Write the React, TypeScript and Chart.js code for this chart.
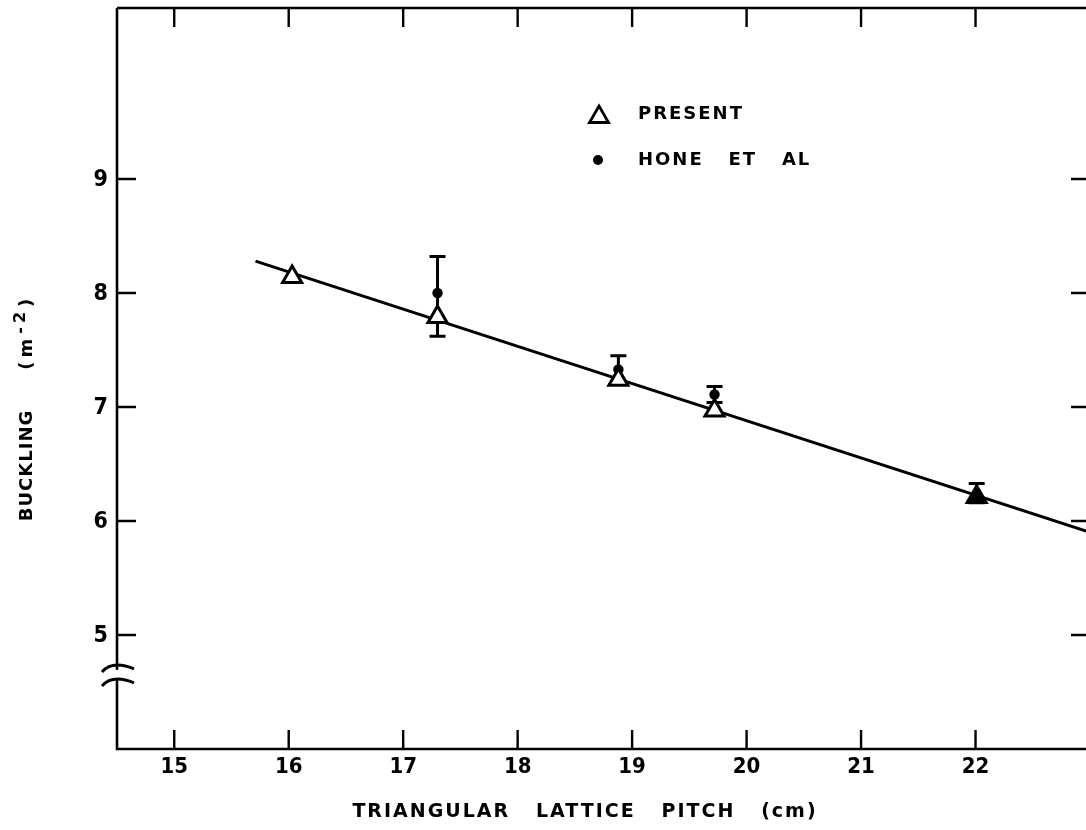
import { useEffect, useRef } from "react";
import { Chart, registerables } from "chart.js";

Chart.register(...registerables);

// ---------- data ----------
const X_TICKS = [15, 16, 17, 18, 19, 20, 21, 22];
const Y_TICKS = [5, 6, 7, 8, 9];
const X_RANGE = [14.5, 23];
const Y_RANGE = [4, 10.5];
const Y_BREAK = 4.65;

const PRESENT_X = [16.03, 17.3, 18.88, 19.72, 22.01];
const PRESENT_Y = [8.14, 7.79, 7.24, 6.97, 6.21];

const HONE_X = [17.3, 18.88, 19.72, 22.01];
const HONE_Y = [8.0, 7.33, 7.11, 6.22];
const HONE_HIGH = [8.32, 7.45, 7.18, 6.33];
const HONE_LOW = [7.62, 7.21, 7.04, 6.16];

const FIT_X = [15.71, 23.0];
const FIT_Y = [8.28, 5.9];

const X_TITLE = "TRIANGULAR   LATTICE   PITCH   (cm)";
const Y_TITLE_MAIN = "BUCKLING";
const Y_TITLE_UNIT_A = "(m";
const Y_TITLE_UNIT_SUP = "-2";
const Y_TITLE_UNIT_B = ")";
const LEGEND_LABELS = ["PRESENT", "HONE   ET   AL"];

const TICK_FONT = '"DejaVu Sans Condensed", "Liberation Sans Narrow", "DejaVu Sans", sans-serif';
const TEXT_FONT = '"DejaVu Sans", "Noto Sans", sans-serif';

const framePlugin = {
  id: "frame",
  beforeDatasetsDraw(chart: any) {
    const { ctx, chartArea, scales } = chart;
    const { left, right, top, bottom } = chartArea;
    const xs = scales.x;
    const ys = scales.y;
    ctx.save();
    ctx.strokeStyle = "#000";
    ctx.lineCap = "butt";
    // frame
    ctx.lineWidth = 2.6;
    ctx.beginPath();
    ctx.moveTo(left, top);
    ctx.lineTo(left, bottom);
    ctx.lineTo(right, bottom);
    ctx.moveTo(left, top);
    ctx.lineTo(right, top);
    ctx.moveTo(right, top);
    ctx.lineTo(right, bottom);
    ctx.stroke();
    // ticks
    const TL = 19;
    ctx.lineWidth = 2.4;
    ctx.beginPath();
    X_TICKS.forEach((v) => {
      const px = xs.getPixelForValue(v);
      ctx.moveTo(px, bottom);
      ctx.lineTo(px, bottom - TL);
      ctx.moveTo(px, top);
      ctx.lineTo(px, top + TL);
    });
    Y_TICKS.forEach((v) => {
      const py = ys.getPixelForValue(v);
      ctx.moveTo(left, py);
      ctx.lineTo(left + TL, py);
      ctx.moveTo(right, py);
      ctx.lineTo(right - TL, py);
    });
    ctx.stroke();

    // tick labels
    ctx.fillStyle = "#000";
    ctx.font = `bold 22px ${TICK_FONT}`;
    ctx.textAlign = "center";
    ctx.textBaseline = "top";
    X_TICKS.forEach((v) => {
      ctx.fillText(String(v), xs.getPixelForValue(v), bottom + 7);
    });
    ctx.font = `bold 23px ${TICK_FONT}`;
    ctx.textAlign = "right";
    ctx.textBaseline = "middle";
    Y_TICKS.forEach((v) => {
      ctx.fillText(String(v), left - 9, ys.getPixelForValue(v) + 1);
    });

    // error bars for HONE ET AL
    ctx.lineWidth = 3;
    ctx.beginPath();
    HONE_X.forEach((xv, i) => {
      const px = xs.getPixelForValue(xv);
      const ph = ys.getPixelForValue(HONE_HIGH[i]);
      const pl = ys.getPixelForValue(HONE_LOW[i]);
      ctx.moveTo(px, ph);
      ctx.lineTo(px, pl);
      ctx.moveTo(px - 8, ph);
      ctx.lineTo(px + 8, ph);
      ctx.moveTo(px - 8, pl);
      ctx.lineTo(px + 8, pl);
    });
    ctx.stroke();
    ctx.restore();
  },
  afterDraw(chart: any) {
    const { ctx, chartArea, scales } = chart;
    const { left } = chartArea;
    const ys = scales.y;
    ctx.save();
    // axis break
    const pb = ys.getPixelForValue(Y_BREAK);
    ctx.fillStyle = "#fff";
    ctx.fillRect(left - 6, pb - 5, 12, 10);
    ctx.strokeStyle = "#000";
    ctx.lineWidth = 3;
    [pb - 7, pb + 7].forEach((yy) => {
      ctx.beginPath();
      ctx.moveTo(left - 15, yy + 4);
      ctx.bezierCurveTo(left - 7, yy - 5, left + 5, yy - 4, left + 17, yy + 1);
      ctx.stroke();
    });

    ctx.fillStyle = "#000";
    // x title
    ctx.font = `bold 19px ${TEXT_FONT}`;
    (ctx as any).letterSpacing = "2px";
    ctx.textAlign = "center";
    ctx.textBaseline = "middle";
    ctx.fillText(X_TITLE, 585, 812);

    // legend
    ctx.font = `bold 18px ${TEXT_FONT}`;
    (ctx as any).letterSpacing = "2px";
    ctx.textAlign = "left";
    ctx.fillText(LEGEND_LABELS[0], 638, 114);
    ctx.fillText(LEGEND_LABELS[1], 638, 160);
    // legend triangle
    const tx = 599, ty = 117, r = 11;
    ctx.lineWidth = 2.8;
    ctx.beginPath();
    ctx.moveTo(tx, ty - r);
    ctx.lineTo(tx + r * 0.866, ty + r * 0.5);
    ctx.lineTo(tx - r * 0.866, ty + r * 0.5);
    ctx.closePath();
    ctx.stroke();
    // legend dot
    ctx.beginPath();
    ctx.arc(598, 160, 5, 0, Math.PI * 2);
    ctx.fill();

    // y title (rotated)
    ctx.save();
    ctx.translate(27, 408);
    ctx.rotate(-Math.PI / 2);
    ctx.textBaseline = "middle";
    ctx.textAlign = "left";
    const mainFont = `bold 18px ${TEXT_FONT}`;
    const supFont = `bold 16px ${TEXT_FONT}`;
    (ctx as any).letterSpacing = "1px";
    ctx.font = mainFont;
    const w1 = ctx.measureText(Y_TITLE_MAIN).width;
    (ctx as any).letterSpacing = "4px";
    const w2 = ctx.measureText(Y_TITLE_UNIT_A).width;
    const w4 = ctx.measureText(Y_TITLE_UNIT_B).width;
    ctx.font = supFont;
    const w3 = ctx.measureText(Y_TITLE_UNIT_SUP).width;
    const gap = 40;
    const total = w1 + gap + w2 + w3 + w4 + 2;
    let cx = -total / 2;
    ctx.font = mainFont;
    (ctx as any).letterSpacing = "1px";
    ctx.fillText(Y_TITLE_MAIN, cx, 0);
    cx += w1 + gap;
    (ctx as any).letterSpacing = "4px";
    ctx.fillText(Y_TITLE_UNIT_A, cx, 0);
    cx += w2 + 1;
    ctx.font = supFont;
    ctx.fillText(Y_TITLE_UNIT_SUP, cx, -6);
    cx += w3 + 1;
    ctx.font = mainFont;
    ctx.fillText(Y_TITLE_UNIT_B, cx, 0);
    ctx.restore();

    ctx.restore();
  },
};

export default function App() {
  const ref = useRef<HTMLCanvasElement | null>(null);

  useEffect(() => {
    if (!ref.current) return;
    const chart = new Chart(ref.current, {
      type: "scatter",
      data: {
        datasets: [
          {
            label: "PRESENT",
            data: PRESENT_X.map((x, i) => ({ x, y: PRESENT_Y[i] })),
            pointStyle: "triangle",
            pointRadius: 11,
            pointBorderWidth: 3,
            pointBorderColor: "#000",
            pointBackgroundColor: PRESENT_X.map((_, i) => (i === PRESENT_X.length - 1 ? "#000" : "#fff")),
            showLine: false,
          },
          {
            label: "HONE ET AL",
            data: HONE_X.map((x, i) => ({ x, y: HONE_Y[i] })),
            pointStyle: "circle",
            pointRadius: 5.2,
            pointBorderWidth: 0,
            pointBackgroundColor: "#000",
            pointBorderColor: "#000",
            showLine: false,
          },
          {
            label: "fit",
            data: FIT_X.map((x, i) => ({ x, y: FIT_Y[i] })),
            showLine: true,
            borderColor: "#000",
            borderWidth: 3,
            pointRadius: 0,
            fill: false,
          },
        ],
      },
      options: {
        animation: false,
        responsive: false,
        events: [],
        layout: { autoPadding: false, padding: { top: 8, right: 10, left: 117, bottom: 81 } },
        plugins: {
          legend: { display: false },
          tooltip: { enabled: false },
        },
        scales: {
          x: {
            type: "linear",
            display: false,
            min: X_RANGE[0],
            max: X_RANGE[1],
          },
          y: {
            type: "linear",
            display: false,
            min: Y_RANGE[0],
            max: Y_RANGE[1],
          },
        },
      },
      plugins: [framePlugin],
    });
    return () => chart.destroy();
  }, []);

  return (
    <div
      style={{
        position: "fixed",
        left: 0,
        top: 0,
        width: 1086,
        height: 830,
        overflow: "hidden",
        background: "#fff",
      }}
    >
      <canvas ref={ref} width={1100} height={830} style={{ display: "block", width: 1100, height: 830 }} />
    </div>
  );
}
